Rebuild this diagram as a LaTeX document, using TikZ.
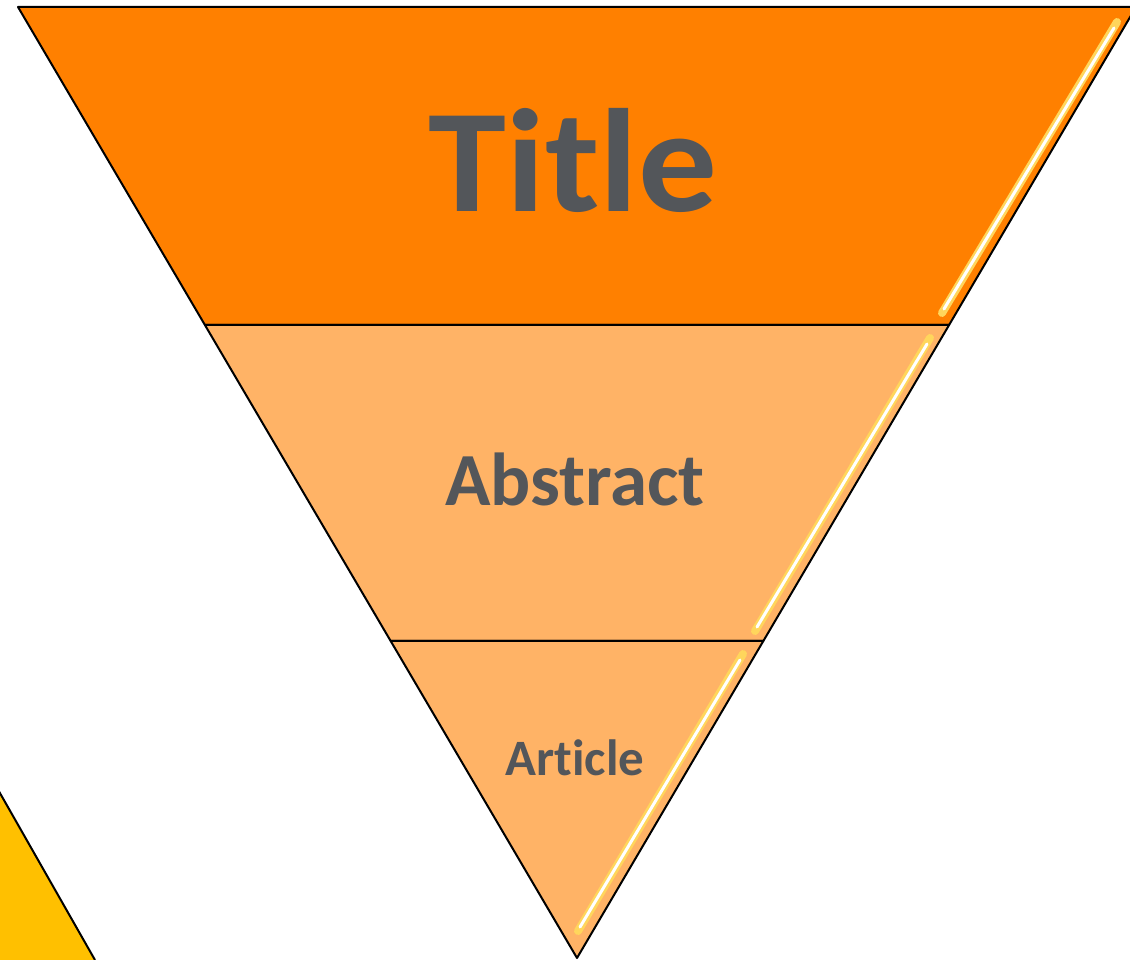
\documentclass[tikz,border=0pt]{standalone}
\usepackage{fontspec}
\setmainfont{Carlito}[Ligatures={NoCommon}]
\usepackage{tikz}
\usetikzlibrary{calc}

\definecolor{darkband}{HTML}{FF8000}
\definecolor{lightband}{HTML}{FFB366}
\definecolor{cornerband}{HTML}{FFC000}
\definecolor{labelgray}{HTML}{53565A}
\definecolor{glint}{HTML}{FFD65C}

\begin{document}
\begin{tikzpicture}[x=1pt, y=-1pt,
    band/.style={draw=black, line width=2pt, line join=round},
    label/.style={text=labelgray, font=\bfseries, anchor=base, inner sep=0pt},
    shine/.style={glint, line width=8pt, line cap=round},
    core/.style={white, line width=3pt, line cap=round}]
    \useasboundingbox (0,0) rectangle (1130,960);
    \clip (0,0) rectangle (1130,960);

    % Corners of the funnel {tl, tr, apex} and band borders
    \coordinate (tl)   at (18,7);
    \coordinate (tr)   at (1136,7);
    \coordinate (apex) at (577,958);
    \coordinate (l1) at ($(tl)!318/951!(apex)$);
    \coordinate (r1) at ($(tr)!318/951!(apex)$);
    \coordinate (l2) at ($(tl)!634/951!(apex)$);
    \coordinate (r2) at ($(tr)!634/951!(apex)$);

    % Corner piece
    \fill [cornerband] (-20,758) -- (95,960) -- (-20,960) -- cycle;
    \draw [black, line width=2pt] (-20,758) -- (95,960);

    % Bands
    \path [band, fill=darkband]  (tl) -- (tr) -- (r1) -- (l1) -- cycle;
    \path [band, fill=lightband] (l1) -- (r1) -- (r2) -- (l2) -- cycle;
    \path [band, fill=lightband] (l2) -- (r2) -- (apex) -- cycle;

    % Glints
    \draw [shine] (1117,22) -- (942,313);
    \draw [core]  (1114,28) -- (944,309);
    \draw [shine] (930,338) -- (755,631);
    \draw [core]  (927,344) -- (757,627);
    \draw [shine] (743,654) -- (578,931);
    \draw [core]  (740,660) -- (580,927);

    % Labels
    \node [label, font=\bfseries\fontsize{147}{147}\selectfont] (title)    at (573,212) {\scalebox{1.07}[1]{Title}};
    \node [label, font=\bfseries\fontsize{75}{75}\selectfont]   (abstract) at (575,505) {Abstract};
    \node [label, font=\bfseries\fontsize{51}{51}\selectfont]   (article)  at (575,775) {Article};
\end{tikzpicture}
\end{document}
